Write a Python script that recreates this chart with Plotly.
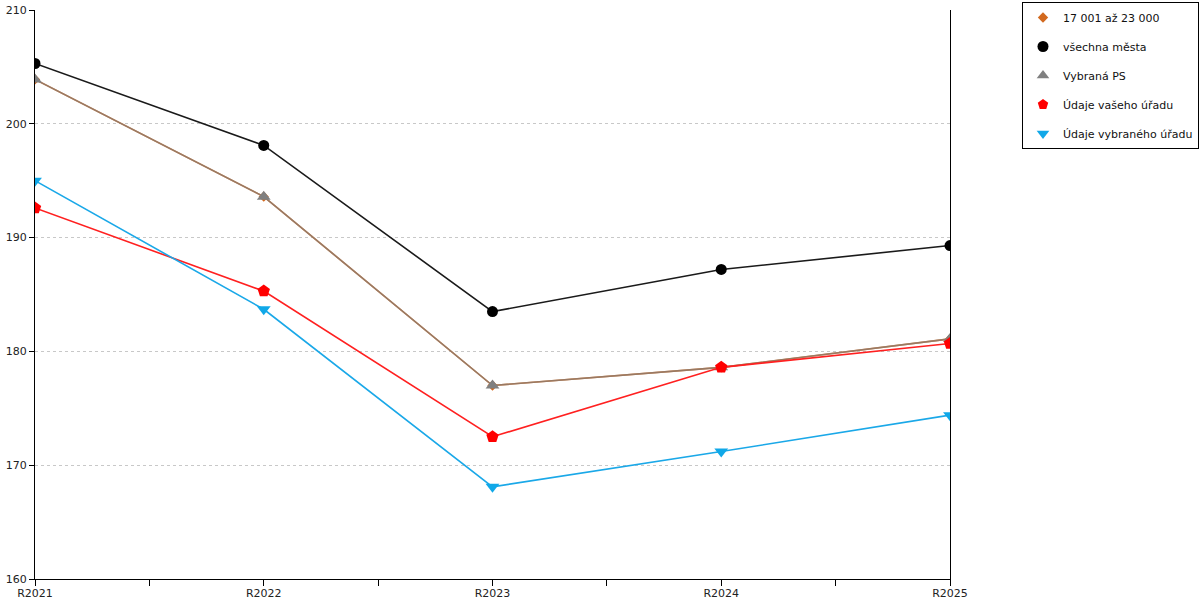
import plotly.graph_objects as go

# data
years = ["R2021", "R2022", "R2023", "R2024", "R2025"]
velikost = [203.9, 193.6, 177.0, 178.6, 181.1]      # 17 001 až 23 000
vsechna_mesta = [205.3, 198.1, 183.5, 187.2, 189.3]
vybrana_ps = [203.9, 193.6, 177.0, 178.6, 181.1]
vas_urad = [192.6, 185.3, 172.5, 178.6, 180.7]
vybrany_urad = [195.0, 183.7, 168.1, 171.2, 174.4]

x = list(range(len(years)))

series = [
    ("17 001 až 23 000", velikost, "#d2691e", "#d2691e", "diamond", 8),
    ("všechna města", vsechna_mesta, "#1a1a1a", "#000000", "circle", 11),
    ("Vybraná PS", vybrana_ps, "rgba(128,128,128,0.7)", "#808080", "triangle-up", 12),
    ("Údaje vašeho úřadu", vas_urad, "#ff2020", "#ff0000", "pentagon", 13),
    ("Údaje vybraného úřadu", vybrany_urad, "#1aa8e8", "#10a8e8", "triangle-down", 12),
]

fig = go.Figure()

for name, vals, lcol, mcol, sym, size in series:
    # the line + markers themselves
    fig.add_trace(go.Scatter(
        x=x, y=vals, mode="lines+markers", name=name,
        line=dict(color=lcol, width=1.6),
        marker=dict(color=mcol, symbol=sym, size=size),
        showlegend=False, hoverinfo="y+name",
    ))

for name, vals, lcol, mcol, sym, size in series:
    # legend entries show only the marker
    fig.add_trace(go.Scatter(
        x=[None], y=[None], mode="markers", name=name,
        marker=dict(color=mcol, symbol=sym, size=11 if sym != "diamond" else 8),
        legendgroup=name,
    ))

W, H = 1200, 600

fig.update_layout(
    width=W, height=H,
    margin=dict(l=35, r=250, t=10, b=21, autoexpand=False),
    paper_bgcolor="white", plot_bgcolor="white",
    font=dict(family="DejaVu Sans", size=11, color="#222"),
    legend=dict(
        xref="container", yref="container",
        x=1022 / W, y=1 - 2 / H, xanchor="left", yanchor="top",
        bordercolor="black", borderwidth=1, bgcolor="white",
        font=dict(size=11, color="#111"),
        tracegroupgap=10, traceorder="grouped",
    ),
)

fig.update_xaxes(
    range=[0, 4], tickvals=x, ticktext=years,
    showgrid=False, zeroline=False, automargin=False,
    showline=True, linecolor="black", linewidth=1,
    ticks="outside", ticklen=6, tickcolor="black", ticklabelstandoff=-2,
    ticklabeloverflow="allow",
    minor=dict(dtick=0.5, tick0=0, ticks="outside", ticklen=6, tickcolor="black"),
)

fig.update_yaxes(
    range=[160, 210], dtick=10, automargin=False,
    showgrid=True, gridcolor="#c8c8c8", griddash="dot", gridwidth=1,
    zeroline=False, ticklabeloverflow="allow",
    showline=True, linecolor="black", linewidth=1, mirror=True,
    ticks="outside", ticklen=5, tickcolor="black",
)

# drop the browser's default body margin so the figure sits at 0,0
fig.write_html("out.html", config={"displayModeBar": False},
               post_script="document.body.style.margin='0';")
